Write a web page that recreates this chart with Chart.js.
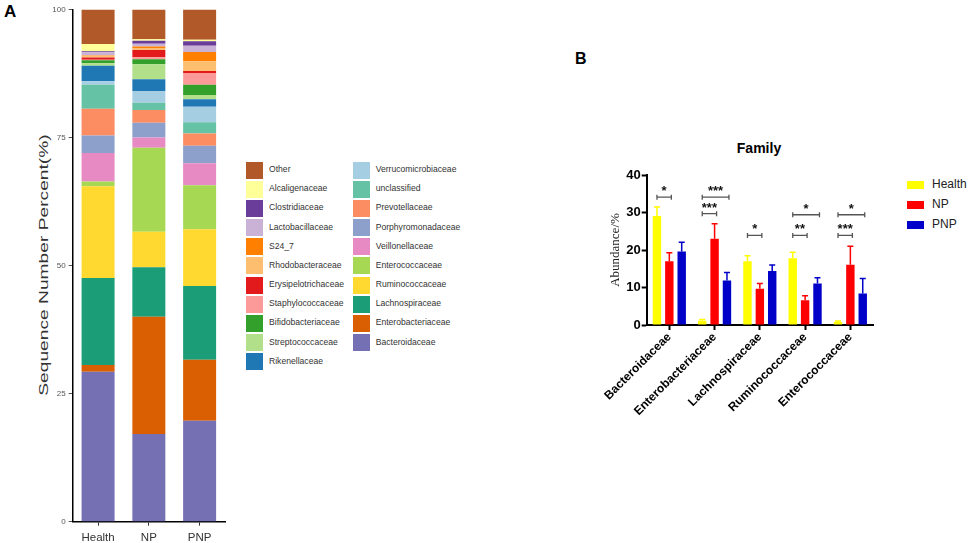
<!DOCTYPE html>
<html><head><meta charset="utf-8">
<script src="https://cdn.jsdelivr.net/npm/chart.js@4.4.1/dist/chart.umd.min.js"></script>
<style>
body{margin:0;background:#fff;width:969px;height:543px;overflow:hidden;position:relative;font-family:"Liberation Sans",Arial,sans-serif;}
#ca{position:absolute;left:0;top:0;}
#cb{position:absolute;left:600px;top:120px;}
.panel{position:absolute;font-weight:bold;color:#000;}
.sw{position:absolute;}
.lt{position:absolute;white-space:nowrap;line-height:1;}
#ytA{position:absolute;left:44px;top:265px;white-space:nowrap;font-size:12px;color:#333;line-height:1;transform:translate(-50%,-50%) rotate(-90deg) scale(1.6,1);}
</style></head>
<body>
<div class="panel" style="left:4px;top:2px;font-size:17px;">A</div>
<div class="panel" style="left:575px;top:50px;font-size:16px;">B</div>
<div class="panel" style="left:690px;top:140px;width:138px;text-align:center;font-size:14px;">Family</div>
<div id="ytA">Sequence Number Percent(%)</div>
<canvas id="ca" width="240" height="543"></canvas>
<canvas id="cb" width="280" height="423"></canvas>
<div id="legA"></div>
<div id="legB"></div>
<script>
// ---------- Panel A data ----------
const groupsA = ['Health', 'NP', 'PNP'];
const families = ['Bacteroidaceae','Enterobacteriaceae','Lachnospiraceae','Ruminococcaceae','Enterococcaceae','Veillonellaceae','Porphyromonadaceae','Prevotellaceae','unclassified','Verrucomicrobiaceae','Rikenellaceae','Streptococcaceae','Bifidobacteriaceae','Staphylococcaceae','Erysipelotrichaceae','Rhodobacteraceae','S24_7','Lactobacillaceae','Clostridiaceae','Alcaligenaceae','Other'];
const healthPct = [29.3,1.3,17.0,17.9,0.9,5.6,3.4,5.2,4.7,0.7,3.0,0.5,0.6,0.1,0.45,0.3,0.1,0.6,0.2,1.4,6.75];
const npPct     = [17.1,22.9,9.7,6.9,16.4,2.0,2.9,2.5,1.4,2.3,2.3,2.9,1.0,0.4,1.4,0.3,0.4,0.5,0.6,0.3,5.8];
const pnpPct    = [19.7,11.9,14.4,11.1,8.6,4.3,3.4,2.4,2.2,3.0,1.5,0.8,2.0,2.3,0.4,1.9,1.8,1.2,0.9,0.3,5.9];
const familyColors = ['#7570B3','#D95F02','#1B9E77','#FFD92F','#A6D854','#E78AC3','#8DA0CB','#FC8D62','#66C2A5','#A6CEE3','#1F78B4','#B2DF8A','#33A02C','#FB9A99','#E31A1C','#FDBF6F','#FF7F00','#CAB2D6','#6A3D9A','#FFFF99','#B15928'];
const yTicksA = [0, 25, 50, 75, 100];

// ---------- Panel B data ----------
const familiesB = ['Bacteroidaceae','Enterobacteriaceae','Lachnospiraceae','Ruminococcaceae','Enterococcaceae'];
const seriesB = ['Health', 'NP', 'PNP'];
const healthMean = [29.1, 1.15, 17.0, 17.8, 0.8];
const healthErr  = [2.4, 0.35, 1.5, 1.6, 0.25];
const npMean     = [17.0, 23.0, 9.7, 6.6, 16.1];
const npErr      = [2.3, 4.0, 1.4, 1.2, 4.9];
const pnpMean    = [19.6, 11.9, 14.4, 11.1, 8.4];
const pnpErr     = [2.5, 2.1, 1.6, 1.5, 4.0];
const seriesColorsB = ['#FFFF00', '#FF0000', '#0000C8'];
const yTicksB = [0, 10, 20, 30, 40];
// significance brackets
const sigCategory = [0, 1, 1, 2, 3, 3, 4, 4];
const sigFrom     = [0, 0, 0, 0, 0, 0, 0, 0];
const sigTo       = [1, 2, 1, 1, 2, 1, 2, 1];
const sigLevel    = [34.1, 34.1, 29.7, 23.9, 29.4, 23.9, 29.4, 23.9];
const sigStars    = ['*', '***', '***', '*', '*', '**', '*', '***'];

const FONT = '"Liberation Sans", Arial, sans-serif';

// ---------- Chart A ----------
const pctByGroup = [healthPct, npPct, pnpPct];
new Chart(document.getElementById('ca'), {
  type: 'bar',
  data: {
    labels: groupsA,
    datasets: families.map((f, i) => ({
      label: f,
      data: pctByGroup.map(arr => arr[i]),
      backgroundColor: familyColors[i],
      borderWidth: 0,
      barPercentage: 0.65,
      categoryPercentage: 1.0
    }))
  },
  options: {
    responsive: false, animation: false,
    layout: { padding: { left: 30.5, top: 9.5, right: 15, bottom: 0 } },
    plugins: { legend: { display: false }, tooltip: { enabled: false } },
    scales: {
      x: {
        stacked: true,
        afterFit: s => { s.height = 21.3; },
        border: { display: true, color: '#000', width: 1.5 },
        grid: { display: true, drawOnChartArea: false, offset: false, tickLength: 4, color: '#333', tickWidth: 1 },
        ticks: { color: '#333', font: { family: FONT, size: 11.5 }, padding: 5 }
      },
      y: {
        stacked: true, min: 0, max: 100,
        afterFit: s => { s.width = 42.2; },
        afterBuildTicks: s => { s.ticks = yTicksA.map(v => ({ value: v })); },
        border: { display: true, color: '#000', width: 1.5 },
        grid: { display: true, drawOnChartArea: false, tickLength: 4, color: '#555', tickWidth: 1 },
        ticks: { color: '#555', font: { family: FONT, size: 8 }, padding: 3 }
      }
    }
  }
});

// HTML legend for A (reverse stacking order, two columns)
(function () {
  const leg = document.getElementById('legA');
  const order = families.map((f, i) => i).reverse();
  order.forEach((idx, k) => {
    const col = k < 11 ? 0 : 1;
    const row = k < 11 ? k : k - 11;
    const cy = 170 + row * 19.17;
    const sx = col ? 352.7 : 246;
    const tx = col ? 375.7 : 269;
    const sw = document.createElement('div');
    sw.className = 'sw';
    sw.style.cssText = `left:${sx}px;top:${cy - 8.5}px;width:17px;height:17px;background:${familyColors[idx]};`;
    leg.appendChild(sw);
    const t = document.createElement('div');
    t.className = 'lt';
    t.style.cssText = `left:${tx}px;top:${cy - 5}px;font-size:8.6px;color:#333;`;
    t.textContent = families[idx];
    leg.appendChild(t);
  });
})();

// ---------- Chart B ----------
const meansB = [healthMean, npMean, pnpMean];
const errsB = [healthErr, npErr, pnpErr];

const errorBarPlugin = {
  id: 'errorBars',
  afterDatasetsDraw(chart) {
    const ctx = chart.ctx, ys = chart.scales.y;
    chart.data.datasets.forEach((ds, di) => {
      const meta = chart.getDatasetMeta(di);
      meta.data.forEach((el, j) => {
        const top = ys.getPixelForValue(meansB[di][j] + errsB[di][j]);
        ctx.save();
        ctx.strokeStyle = ds.errColor;
        ctx.lineWidth = 1.5;
        ctx.beginPath();
        ctx.moveTo(el.x, el.y);
        ctx.lineTo(el.x, top);
        ctx.moveTo(el.x - 3, top);
        ctx.lineTo(el.x + 3, top);
        ctx.stroke();
        ctx.restore();
      });
    });
  }
};

const bracketPlugin = {
  id: 'brackets',
  afterDatasetsDraw(chart) {
    const ctx = chart.ctx, ys = chart.scales.y;
    sigCategory.forEach((c, k) => {
      const x1 = chart.getDatasetMeta(sigFrom[k]).data[c].x;
      const x2 = chart.getDatasetMeta(sigTo[k]).data[c].x + 2;
      const y = ys.getPixelForValue(sigLevel[k]);
      ctx.save();
      ctx.strokeStyle = '#555';
      ctx.lineWidth = 1.3;
      ctx.beginPath();
      ctx.moveTo(x1, y); ctx.lineTo(x2, y);
      ctx.moveTo(x1, y - 2.5); ctx.lineTo(x1, y + 2.5);
      ctx.moveTo(x2, y - 2.5); ctx.lineTo(x2, y + 2.5);
      ctx.stroke();
      ctx.fillStyle = '#111';
      ctx.font = 'bold 13px ' + FONT;
      ctx.textAlign = 'center';
      ctx.textBaseline = 'alphabetic';
      ctx.fillText(sigStars[k], (x1 + x2) / 2, y - 2);
      ctx.restore();
    });
  }
};

new Chart(document.getElementById('cb'), {
  type: 'bar',
  data: {
    labels: familiesB,
    datasets: seriesB.map((s, i) => ({
      label: s,
      data: meansB[i],
      backgroundColor: seriesColorsB[i],
      errColor: seriesColorsB[i],
      borderWidth: 0,
      barPercentage: 0.68,
      categoryPercentage: 0.82
    }))
  },
  options: {
    responsive: false, animation: false,
    layout: { padding: { left: 3.9, top: 55, right: 7, bottom: 0 } },
    plugins: { legend: { display: false }, tooltip: { enabled: false } },
    scales: {
      x: {
        afterFit: s => { s.height = 218; },
        border: { display: true, color: '#000', width: 2 },
        grid: { display: true, drawOnChartArea: false, offset: false, tickLength: 5, color: '#000', tickWidth: 2 },
        ticks: { color: '#000', font: { family: FONT, size: 12, weight: 'bold' }, maxRotation: 45, minRotation: 45, padding: 0, autoSkip: false }
      },
      y: {
        min: 0, max: 40,
        afterFit: s => { s.width = 42.8; },
        afterBuildTicks: s => { s.ticks = yTicksB.map(v => ({ value: v })); },
        border: { display: true, color: '#000', width: 2 },
        grid: { display: true, drawOnChartArea: false, tickLength: 5, color: '#000', tickWidth: 2 },
        ticks: { color: '#000', font: { family: FONT, size: 13, weight: 'bold' }, padding: 1 },
        title: { display: true, text: 'Abundance/%', color: '#222', font: { family: '"Liberation Serif", "Times New Roman", serif', size: 13 }, padding: { top: 4, bottom: 4 } }
      }
    }
  },
  plugins: [errorBarPlugin, bracketPlugin]
});

// HTML legend for B
(function () {
  const leg = document.getElementById('legB');
  seriesB.forEach((s, i) => {
    const cy = 184.7 + i * 20.3;
    const sw = document.createElement('div');
    sw.className = 'sw';
    sw.style.cssText = `left:906.7px;top:${cy - 4}px;width:17px;height:8px;background:${seriesColorsB[i]};`;
    leg.appendChild(sw);
    const t = document.createElement('div');
    t.className = 'lt';
    t.style.cssText = `left:932px;top:${cy - 7}px;font-size:12px;color:#222;`;
    t.textContent = s;
    leg.appendChild(t);
  });
})();
</script>
</body></html>
